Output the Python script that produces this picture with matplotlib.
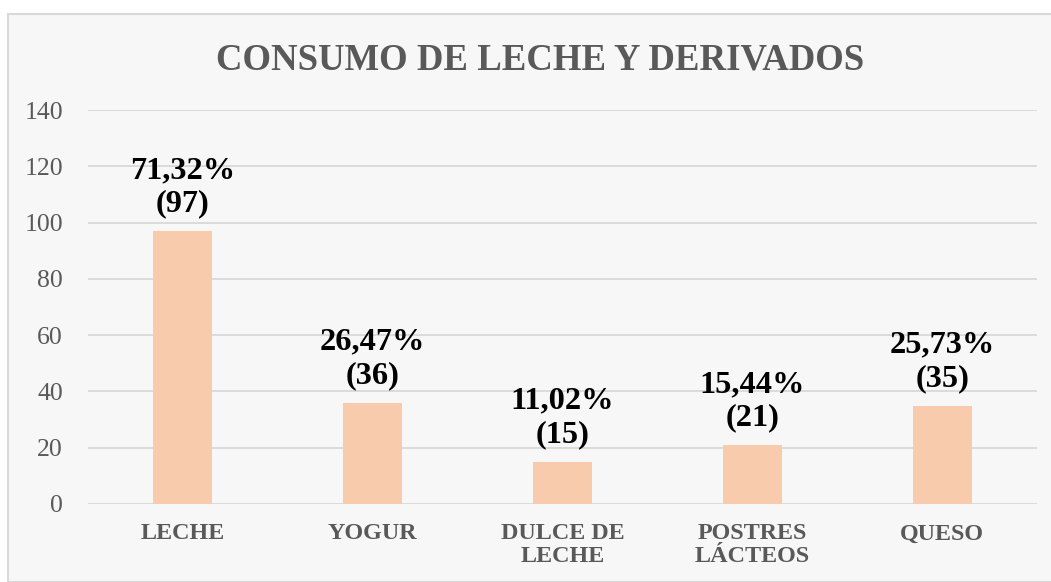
import matplotlib
matplotlib.use("Agg")
import matplotlib.pyplot as plt
from matplotlib.patches import Rectangle

categories = ["LECHE", "YOGUR", "DULCE DE\nLECHE", "POSTRES\nLÁCTEOS", "QUESO"]
counts = [97, 36, 15, 21, 35]
percents = ["71,32%", "26,47%", "11,02%", "15,44%", "25,73%"]
y_ticks = [0, 20, 40, 60, 80, 100, 120, 140]

W, H = 1051, 582
fig = plt.figure(figsize=(W / 100, H / 100), dpi=100)
fig.patch.set_facecolor("white")

# chart area box (runs off the right and bottom edges)
fig.patches.append(Rectangle((8 / W, 0), 1.2, 1 - 13.5 / H, transform=fig.transFigure,
                             facecolor="#F7F7F7", edgecolor="#D9D9D9", linewidth=1.5,
                             zorder=-5))

serif = ["Liberation Serif", "DejaVu Serif"]
ax = fig.add_axes([88 / W, (H - 504) / H, (1037 - 88) / W, (504 - 110) / H])
ax.set_facecolor("none")

x = list(range(len(categories)))
ax.bar(x, counts, width=0.31, color="#F8CBAD", zorder=2)
ax.set_xlim(-0.5, len(categories) - 0.5)
ax.set_ylim(0, 140)
ax.set_yticks(y_ticks)
ax.yaxis.grid(True, color="#D9D9D9", linewidth=1.3, zorder=1)
ax.set_axisbelow(True)
for s in ax.spines.values():
    s.set_visible(False)
ax.tick_params(length=0)
ax.tick_params(axis="y", pad=18)
ax.tick_params(axis="x", pad=14)
ax.set_yticklabels([str(v) for v in y_ticks], family=serif, fontsize=18.5, color="#595959")
ax.set_xticks(x)
ax.set_xticklabels(categories, family=serif, fontsize=17.4, fontweight="bold",
                   color="#595959", linespacing=1.12)

for xi, c, p in zip(x, counts, percents):
    ax.annotate(f"{p}\n({c})", (xi, c), xytext=(0, 9), textcoords="offset points",
                ha="center", va="bottom", family=serif, fontsize=23.3,
                fontweight="bold", color="black", linespacing=1.2)

fig.text(540 / W, 1 - 60 / H, "CONSUMO DE LECHE Y DERIVADOS", ha="center", va="center",
         family=serif, fontsize=26.5, fontweight="bold", color="#595959")

fig.savefig("out.png", dpi=100)
